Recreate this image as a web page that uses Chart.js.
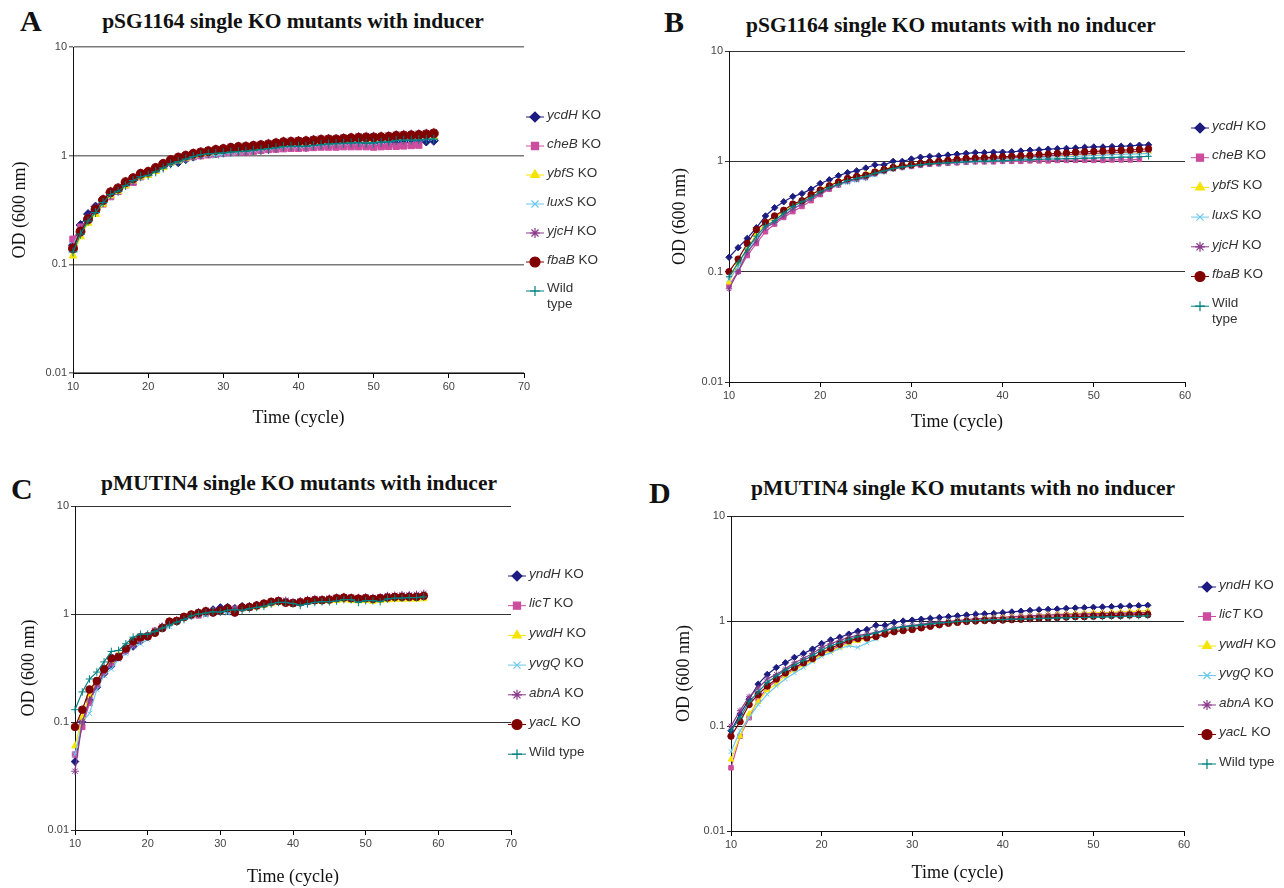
<!DOCTYPE html>
<html>
<head>
<meta charset="utf-8">
<script src="https://cdn.jsdelivr.net/npm/chart.js@4.4.0/dist/chart.umd.min.js"></script>
<style>
  body { margin: 0; background: #fff; width: 1284px; height: 888px; position: relative; overflow: hidden; }
  .panel { position: absolute; }
  .letter { position: absolute; font: bold 30px 'Liberation Serif', serif; line-height: 30px; color: #111; }
  .head { position: absolute; font: bold 21.5px 'Liberation Serif', serif; line-height: 22px; color: #111; white-space: nowrap; text-align: center; }
</style>
</head>
<body>

<div class="letter" style="left:20px;top:6px">A</div>
<div class="head" style="left:83px;top:10px;width:420px">pSG1164 single KO mutants with inducer</div>
<div class="letter" style="left:664px;top:7px">B</div>
<div class="head" style="left:736px;top:14px;width:430px">pSG1164 single KO mutants with no inducer</div>
<div class="letter" style="left:11px;top:474px">C</div>
<div class="head" style="left:89px;top:472px;width:420px">pMUTIN4 single KO mutants with inducer</div>
<div class="letter" style="left:649px;top:478px">D</div>
<div class="head" style="left:743px;top:477px;width:440px">pMUTIN4 single KO mutants with no inducer</div>

<div class="panel" style="left:0;top:0"><canvas id="chartA" width="640" height="440"></canvas></div>
<div class="panel" style="left:640px;top:0"><canvas id="chartB" width="644" height="440"></canvas></div>
<div class="panel" style="left:0;top:440px"><canvas id="chartC" width="640" height="448"></canvas></div>
<div class="panel" style="left:640px;top:440px"><canvas id="chartD" width="644" height="448"></canvas></div>

<script>
// cycles
const cycles58 = [10,11,12,13,14,15,16,17,18,19,20,21,22,23,24,25,26,27,28,29,30,31,32,33,34,35,36,37,38,39,40,41,42,43,44,45,46,47,48,49,50,51,52,53,54,55,56,57,58];
const cycles56 = [10,11,12,13,14,15,16,17,18,19,20,21,22,23,24,25,26,27,28,29,30,31,32,33,34,35,36,37,38,39,40,41,42,43,44,45,46,47,48,49,50,51,52,53,54,55,56];

const xTicks70 = [10, 20, 30, 40, 50, 60, 70];
const xTicks60 = [10, 20, 30, 40, 50, 60];
const yTicks = [0.01, 0.1, 1, 10];

const namesAB = ['ycdH', 'cheB', 'ybfS', 'luxS', 'yjcH', 'fbaB', 'Wild type'];
const namesCD = ['yndH', 'licT', 'ywdH', 'yvgQ', 'abnA', 'yacL', 'Wild type'];

// A: pSG1164 with inducer
const ycdH_A = [0.15,0.23,0.29,0.34,0.39,0.46,0.49,0.56,0.60,0.66, 0.69,0.74,0.80,0.86,0.87,0.93,0.98,1.02,1.05,1.07, 1.08,1.10,1.11,1.10,1.12,1.13,1.15,1.17,1.20,1.21, 1.21,1.20,1.22,1.24,1.26,1.27,1.28,1.29,1.30,1.28, 1.27,1.28,1.28,1.33,1.34,1.34,1.35,1.35,1.37];
const cheB_A = [0.17,0.22,0.26,0.31,0.36,0.42,0.47,0.54,0.57,0.64, 0.68,0.75,0.82,0.88,0.92,0.95,0.98,1.00,1.02,1.03, 1.05,1.07,1.08,1.08,1.10,1.12,1.14,1.15,1.16,1.17, 1.17,1.18,1.19,1.20,1.20,1.20,1.21,1.21,1.21,1.21, 1.20,1.21,1.22,1.22,1.23,1.24,1.25,null,null];
const ybfS_A = [0.12,0.18,0.24,0.29,0.36,0.43,0.47,0.53,0.59,0.64, 0.66,0.72,0.78,0.86,0.90,0.95,1.00,1.04,1.06,1.08, 1.10,1.13,1.14,1.16,1.18,1.20,1.22,1.25,1.27,1.28, 1.29,1.30,1.32,1.34,1.35,1.35,1.37,1.39,1.40,1.41, 1.41,1.42,1.44,1.45,1.46,1.47,1.48,1.49,1.50];
const luxS_A = [0.15,0.21,0.26,0.31,0.37,0.44,0.48,0.55,0.60,0.66, 0.68,0.74,0.80,0.86,0.90,0.95,0.99,1.02,1.03,1.00, 1.04,1.07,1.09,1.12,1.14,1.16,1.19,1.22,1.24,1.24, 1.24,1.25,1.27,1.29,1.31,1.32,1.33,1.35,1.35,1.33, 1.34,1.36,1.38,1.42,1.43,1.43,1.44,1.45,1.46];
const yjcH_A = [0.14,0.21,0.27,0.33,0.40,0.47,0.51,0.58,0.63,0.69, 0.72,0.78,0.85,0.92,0.97,1.01,1.06,1.09,1.12,1.15, 1.17,1.20,1.22,1.23,1.25,1.27,1.30,1.33,1.36,1.37, 1.38,1.39,1.41,1.43,1.44,1.44,1.46,1.48,1.50,1.51, 1.51,1.52,1.53,1.56,1.57,1.58,1.59,1.61,1.64];
const fbaB_A = [0.14,0.20,0.26,0.32,0.39,0.46,0.50,0.57,0.62,0.68, 0.71,0.77,0.84,0.91,0.96,1.00,1.04,1.07,1.10,1.13, 1.15,1.18,1.20,1.21,1.23,1.25,1.27,1.30,1.33,1.34, 1.35,1.36,1.38,1.40,1.41,1.41,1.43,1.45,1.46,1.47, 1.47,1.48,1.49,1.52,1.53,1.54,1.55,1.57,1.60];
const wt_A   = [0.13,0.19,0.25,0.30,0.37,0.44,0.47,0.53,0.59,0.64, 0.66,0.71,0.77,0.84,0.88,0.93,0.98,1.02,1.04,1.05, 1.06,1.08,1.09,1.10,1.12,1.14,1.16,1.18,1.21,1.22, 1.22,1.22,1.24,1.26,1.28,1.29,1.30,1.31,1.32,1.30, 1.31,1.33,1.34,1.38,1.39,1.39,1.40,1.41,1.42];

// B: pSG1164 no inducer
const ycdH_B = [0.135,0.165,0.20,0.25,0.32,0.38,0.43,0.48,0.51,0.56, 0.63,0.68,0.74,0.79,0.82,0.87,0.93,0.93,1.00,1.00, 1.05,1.09,1.11,1.12,1.14,1.16,1.18,1.20,1.20,1.21, 1.21,1.22,1.24,1.26,1.27,1.29,1.30,1.31,1.32,1.34, 1.35,1.35,1.36,1.37,1.38,1.40,1.41];
const cheB_B = [0.075,0.10,0.14,0.18,0.23,0.27,0.31,0.35,0.39,0.44, 0.50,0.56,0.61,0.66,0.69,0.73,0.78,0.82,0.86,0.88, 0.90,0.92,0.94,0.95,0.96,0.97,0.98,0.99,0.99,0.99, 1.00,1.00,1.00,1.01,1.01,1.01,1.02,1.02,1.02,1.02, 1.02,1.02,1.03,1.03,1.03,1.04,null];
const ybfS_B = [0.08,0.12,0.16,0.22,0.27,0.31,0.35,0.40,0.44,0.49, 0.56,0.61,0.66,0.70,0.73,0.77,0.81,0.85,0.89,0.92, 0.94,0.96,0.98,0.99,1.00,1.02,1.04,1.05,1.06,1.07, 1.07,1.08,1.09,1.10,1.11,1.12,1.13,1.14,1.15,1.16, 1.17,1.18,1.19,1.20,1.21,1.22,1.23];
const luxS_B = [0.085,0.11,0.15,0.20,0.25,0.28,0.33,0.37,0.41,0.46, 0.52,0.57,0.61,0.64,0.67,0.70,0.75,0.80,0.85,0.88, 0.91,0.93,0.95,0.97,0.98,0.99,1.00,1.01,1.02,1.03, 1.04,1.05,1.06,1.07,1.08,1.09,1.10,1.10,1.11,1.12, 1.13,1.14,1.15,1.16,1.16,1.17,1.18];
const yjcH_B = [0.07,0.10,0.15,0.19,0.25,0.28,0.32,0.37,0.41,0.46, 0.51,0.57,0.62,0.66,0.69,0.71,0.77,0.81,0.86,0.89, 0.91,0.94,0.96,0.98,0.99,1.01,1.03,1.04,1.05,1.06, 1.07,1.08,1.09,1.10,1.11,1.12,1.14,1.15,1.16,1.17, 1.18,1.19,1.20,1.21,1.22,1.23,1.24];
const fbaB_B = [0.10,0.13,0.18,0.24,0.28,0.32,0.36,0.41,0.44,0.50, 0.55,0.60,0.65,0.70,0.73,0.75,0.80,0.84,0.88,0.91, 0.93,0.96,0.98,1.00,1.02,1.04,1.06,1.07,1.08,1.09, 1.10,1.11,1.12,1.13,1.15,1.16,1.18,1.19,1.21,1.22, 1.23,1.24,1.25,1.26,1.27,1.28,1.30];
const wt_B   = [0.09,0.12,0.16,0.21,0.26,0.29,0.34,0.39,0.43,0.47, 0.53,0.58,0.62,0.67,0.70,0.73,0.78,0.82,0.86,0.89, 0.91,0.93,0.95,0.96,0.97,0.98,0.99,1.00,1.00,1.01, 1.01,1.02,1.03,1.03,1.04,1.05,1.05,1.06,1.06,1.07, 1.07,1.08,1.08,1.09,1.09,1.10,1.11];

// C: pMUTIN4 with inducer
const yndH_C = [0.043,0.10,0.16,0.21,0.28,0.33,0.40,0.46,0.50,0.56, 0.62,0.69,0.76,0.84,0.86,0.93,0.98,1.03,1.07,1.10, 1.15,1.16,1.13,1.18,1.18,1.21,1.24,1.28,1.32,1.30, 1.27,1.30,1.33,1.35,1.35,1.37,1.39,1.40,1.38,1.37, 1.40,1.38,1.39,1.43,1.44,1.45,1.47,1.46,1.48];
const licT_C = [0.05,0.09,0.15,0.22,0.29,0.35,0.41,0.46,0.54,0.59, 0.63,0.70,0.75,0.82,0.87,0.92,0.96,0.97,1.01,1.04, 1.06,1.08,1.10,1.13,1.15,1.18,1.22,1.27,1.32,1.31, 1.28,1.30,1.34,1.36,1.36,1.37,1.40,1.42,1.41,1.40, 1.41,1.40,1.42,1.44,1.45,1.45,1.46,1.47,1.48];
const ywdH_C = [0.06,0.11,0.18,0.24,0.30,0.37,0.42,0.47,0.54,0.58, 0.62,0.69,0.75,0.82,0.87,0.93,0.97,1.01,1.04,1.06, 1.08,1.10,1.08,1.12,1.14,1.16,1.20,1.24,1.28,1.26, 1.24,1.26,1.29,1.31,1.31,1.32,1.33,1.35,1.33,1.32, 1.33,1.31,1.33,1.35,1.36,1.36,1.37,1.37,1.38];
const yvgQ_C = [0.05,0.10,0.12,0.20,0.27,0.31,0.38,0.43,0.50,0.53, 0.58,0.67,0.73,0.76,0.86,0.91,0.95,0.99,0.97,1.02, 1.05,1.02,1.03,1.12,1.14,1.17,1.21,1.26,1.30,1.28, 1.24,1.28,1.32,1.34,1.34,1.36,1.40,1.40,1.38,1.38, 1.42,1.40,1.38,1.45,1.44,1.44,1.46,1.46,1.47];
const abnA_C = [0.035,0.10,0.16,0.22,0.29,0.36,0.41,0.45,0.51,0.57, 0.62,0.70,0.77,0.85,0.88,0.95,0.99,1.04,1.08,1.07, 1.10,1.13,1.13,1.16,1.17,1.20,1.24,1.29,1.34,1.34, 1.30,1.32,1.36,1.39,1.38,1.40,1.43,1.45,1.43,1.42, 1.44,1.42,1.44,1.48,1.49,1.51,1.50,1.52,1.55];
const yacL_C = [0.09,0.13,0.20,0.24,0.31,0.39,0.40,0.48,0.56,0.61, 0.62,0.67,0.74,0.85,0.86,0.94,0.99,1.02,1.06,1.03, 1.08,1.13,1.03,1.15,1.16,1.20,1.25,1.30,1.32,1.27, 1.26,1.28,1.32,1.34,1.34,1.36,1.40,1.42,1.40,1.39, 1.40,1.38,1.40,1.42,1.44,1.44,1.44,1.44,1.47];
const wt_C   = [0.13,0.19,0.25,0.29,0.36,0.45,0.46,0.53,0.61,0.65, 0.65,0.69,0.74,0.79,0.84,0.89,0.96,1.00,1.02,1.05, 1.04,1.08,1.10,1.08,1.12,1.15,1.18,1.24,1.28,1.28, 1.25,1.20,1.24,1.28,1.30,1.30,1.32,1.36,1.36,1.28, 1.33,1.33,1.30,1.38,1.40,1.40,1.42,1.42,1.44];

// D: pMUTIN4 no inducer
const yndH_D = [0.09,0.13,0.18,0.25,0.31,0.36,0.40,0.45,0.49,0.54, 0.61,0.66,0.70,0.75,0.80,0.83,0.91,0.91,0.97,1.00, 1.02,1.04,1.06,1.08,1.10,1.12,1.14,1.16,1.17,1.18, 1.20,1.22,1.24,1.26,1.28,1.29,1.30,1.32,1.33,1.34, 1.35,1.36,1.37,1.38,1.39,1.40,1.41];
const licT_D = [0.04,0.08,0.12,0.18,0.23,0.27,0.31,0.35,0.39,0.43, 0.49,0.53,0.58,0.63,0.66,0.68,0.72,0.77,0.81,0.84, 0.86,0.89,0.92,0.94,0.96,0.98,1.00,1.02,1.03,1.04, 1.05,1.06,1.08,1.09,1.10,1.11,1.12,1.13,1.14,1.14, 1.15,1.16,1.16,1.17,1.17,1.18,1.19];
const ywdH_D = [0.048,0.08,0.13,0.17,0.22,0.25,0.30,0.34,0.38,0.42, 0.48,0.52,0.56,0.61,0.65,0.67,0.71,0.76,0.80,0.84, 0.87,0.90,0.93,0.95,0.98,1.00,1.02,1.04,1.06,1.07, 1.08,1.10,1.11,1.12,1.13,1.15,1.16,1.17,1.18,1.19, 1.20,1.20,1.21,1.22,1.23,1.24,1.25];
const yvgQ_D = [0.057,0.09,0.12,0.16,0.20,0.24,0.28,0.32,0.36,0.41, 0.46,0.50,0.55,0.58,0.56,0.62,0.67,0.74,0.79,0.84, 0.87,0.90,0.92,0.94,0.96,0.98,0.99,1.00,1.01,1.02, 1.03,1.04,1.05,1.05,1.06,1.07,1.07,1.08,1.08,1.09, 1.09,1.10,1.10,1.11,1.11,1.12,1.12];
const abnA_D = [0.10,0.14,0.19,0.23,0.28,0.31,0.35,0.40,0.44,0.49, 0.56,0.61,0.65,0.70,0.73,0.75,0.78,0.82,0.86,0.89, 0.91,0.93,0.96,0.98,0.99,1.01,1.03,1.05,1.06,1.07, 1.08,1.10,1.11,1.12,1.13,1.14,1.15,1.16,1.16,1.17, 1.17,1.18,1.18,1.19,1.19,1.20,1.20];
const yacL_D = [0.08,0.11,0.16,0.20,0.24,0.28,0.32,0.36,0.40,0.44, 0.50,0.55,0.60,0.65,0.68,0.69,0.71,0.75,0.79,0.81, 0.83,0.86,0.89,0.92,0.95,0.97,0.99,1.00,1.01,1.01, 1.02,1.03,1.04,1.05,1.06,1.07,1.08,1.09,1.10,1.10, 1.11,1.12,1.13,1.13,1.14,1.15,1.15];
const wt_D   = [0.09,0.12,0.17,0.21,0.26,0.30,0.34,0.38,0.42,0.47, 0.53,0.58,0.62,0.67,0.71,0.73,0.77,0.81,0.85,0.88, 0.90,0.92,0.94,0.96,0.97,0.99,1.00,1.01,1.02,1.03, 1.03,1.04,1.04,1.05,1.06,1.06,1.07,1.07,1.08,1.08, 1.09,1.09,1.10,1.10,1.11,1.11,1.12];

// Excel-ish series styles
const colors = ['#1c1c80', '#cc4c9e', '#f5e400', '#6cc8ec', '#8b3a8b', '#800000', '#008080'];
const markers = ['rectRot', 'rect', 'triangle', 'crossRot', 'star', 'circle', 'cross'];

const sideLegend = {
  id: 'sideLegend',
  afterDraw(chart, args, opts) {
    const ctx = chart.ctx;
    ctx.save();
    chart.data.datasets.forEach((ds, i) => {
      const y = opts.top + i * opts.step;
      ctx.strokeStyle = ds.borderColor;
      ctx.lineWidth = 1;
      ctx.beginPath();
      ctx.moveTo(opts.x - 9, y);
      ctx.lineTo(opts.x + 9, y);
      ctx.stroke();
      ctx.fillStyle = ds.pointBackgroundColor;
      ctx.strokeStyle = ds.pointBorderColor;
      ctx.lineWidth = 1.2;
      Chart.helpers.drawPoint(ctx, { pointStyle: ds.pointStyle, radius: opts.r, rotation: 0, borderWidth: 1.2 }, opts.x, y);

      ctx.fillStyle = '#333';
      ctx.textBaseline = 'middle';
      const tx = opts.x + 12;
      if (ds.label === 'Wild type') {
        ctx.font = '13.5px "Liberation Sans", Arial, sans-serif';
        if (opts.wrap) {
          ctx.fillText('Wild', tx, y - 3);
          ctx.fillText('type', tx, y + 13);
        } else {
          ctx.fillText('Wild type', tx, y - 2);
        }
      } else {
        ctx.font = 'italic 13.5px "Liberation Sans", Arial, sans-serif';
        ctx.fillText(ds.label, tx, y - 2);
        const w = ctx.measureText(ds.label).width;
        ctx.font = '13.5px "Liberation Sans", Arial, sans-serif';
        ctx.fillText(' KO', tx + w, y - 2);
      }
    });
    ctx.restore();
  }
};

function makeChart(id, P) {
  const datasets = P.series.map((vals, i) => ({
    label: P.names[i],
    data: vals.map((v, j) => ({ x: P.cycles[j], y: v })),
    borderColor: colors[i],
    backgroundColor: colors[i],
    pointBackgroundColor: colors[i],
    pointBorderColor: colors[i],
    pointStyle: markers[i],
    pointRadius: P.r,
    pointBorderWidth: 1,
    borderWidth: 1.2,
    tension: 0,
    spanGaps: false,
    clip: 10,
    order: 6 - i
  }));

  const tickFont = { family: '"Liberation Sans Narrow", "Arial Narrow", "Liberation Sans", sans-serif', size: 11 };
  const titleFont = { family: '"Liberation Serif", "Times New Roman", serif', size: 18 };

  return new Chart(document.getElementById(id), {
    type: 'line',
    data: { datasets },
    plugins: [sideLegend],
    options: {
      responsive: false,
      animation: false,
      events: [],
      layout: { padding: { left: 0, top: P.top, right: P.right, bottom: 0 } },
      plugins: {
        legend: { display: false },
        tooltip: { enabled: false },
        sideLegend: P.legend
      },
      scales: {
        x: {
          type: 'linear',
          min: 10,
          max: P.xTicks[P.xTicks.length - 1],
          afterBuildTicks: s => { s.ticks = P.xTicks.map(v => ({ value: v })); },
          afterFit: s => { s.height = P.xh; },
          grid: { drawOnChartArea: false, drawTicks: true, tickLength: 5, color: '#000' },
          border: { color: '#111', width: 1 },
          ticks: { font: tickFont, color: '#444', padding: 2, maxRotation: 0 },
          title: { display: true, text: 'Time (cycle)', font: titleFont, color: '#111', padding: { top: 0, bottom: P.xtp } }
        },
        y: {
          type: 'logarithmic',
          min: 0.01,
          max: 10,
          afterBuildTicks: s => { s.ticks = yTicks.map(v => ({ value: v })); },
          afterFit: s => { s.width = P.yw; },
          grid: { color: P.gridColor, lineWidth: P.gridWidth, tickLength: 4 },
          border: { color: '#111', width: 1 },
          ticks: { font: tickFont, color: '#444', padding: 2, callback: v => String(v) },
          title: { display: true, text: 'OD (600 nm)', font: titleFont, color: '#111', padding: { top: P.ytp, bottom: 0 } }
        }
      }
    }
  });
}

makeChart('chartA', {
  series: [ycdH_A, cheB_A, ybfS_A, luxS_A, yjcH_A, fbaB_A, wt_A], names: namesAB, cycles: cycles58,
  xTicks: xTicks70, r: 4.5, top: 47, right: 116, yw: 73, xh: 67, ytp: 9, xtp: 11,
  gridColor: '#7a7a7a', gridWidth: 1.5,
  legend: { x: 535, top: 117, step: 29, wrap: true, r: 5 }
});
makeChart('chartB', {
  series: [ycdH_B, cheB_B, ybfS_B, luxS_B, yjcH_B, fbaB_B, wt_B], names: namesAB, cycles: cycles56,
  xTicks: xTicks60, r: 3.2, top: 51, right: 99, yw: 89, xh: 58, ytp: 29, xtp: 7,
  gridColor: '#333', gridWidth: 1,
  legend: { x: 560, top: 128, step: 29.7, wrap: true, r: 5 }
});
makeChart('chartC', {
  series: [yndH_C, licT_C, ywdH_C, yvgQ_C, abnA_C, yacL_C, wt_C], names: namesCD, cycles: cycles58,
  xTicks: xTicks70, r: 3.8, top: 66, right: 129, yw: 75, xh: 58, ytp: 18, xtp: 0,
  gridColor: '#333', gridWidth: 1,
  legend: { x: 517, top: 136, step: 29.7, wrap: false, r: 5 }
});
makeChart('chartD', {
  series: [yndH_D, licT_D, ywdH_D, yvgQ_D, abnA_D, yacL_D, wt_D], names: namesCD, cycles: cycles56,
  xTicks: xTicks60, r: 3.2, top: 76, right: 100, yw: 91, xh: 57, ytp: 33, xtp: 4,
  gridColor: '#222', gridWidth: 1,
  legend: { x: 567, top: 147, step: 29.5, wrap: false, r: 5 }
});
</script>
</body>
</html>
